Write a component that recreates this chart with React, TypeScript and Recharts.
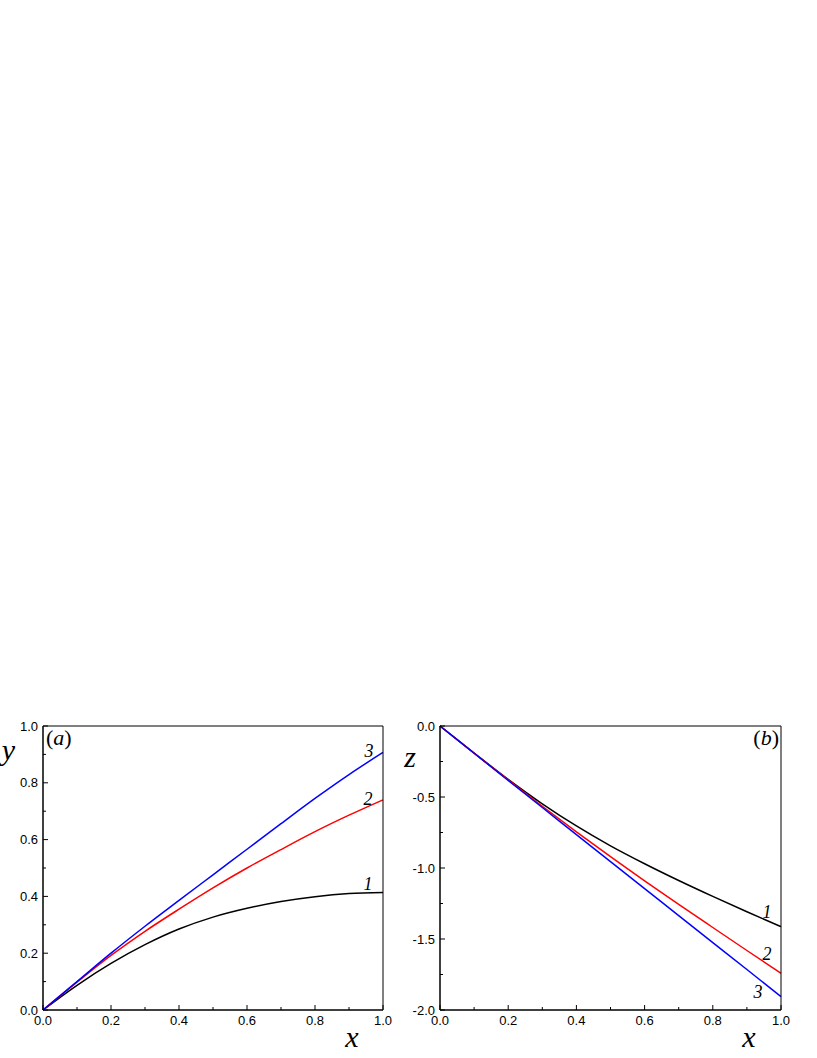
import React from 'react'
import { LineChart, Line, XAxis, YAxis } from 'recharts'

const xs = [0, 0.1, 0.2, 0.3, 0.4, 0.5, 0.6, 0.7, 0.8, 0.9, 1.0]

// panel (a): y(x)
const yCurve1 = [0, 0.087, 0.164, 0.23, 0.285, 0.327, 0.358, 0.382, 0.399, 0.41, 0.414]
const yCurve2 = [0, 0.098, 0.192, 0.277, 0.355, 0.43, 0.5, 0.565, 0.628, 0.686, 0.74]
const yCurve3 = [0, 0.1, 0.2, 0.295, 0.386, 0.476, 0.566, 0.656, 0.745, 0.829, 0.907]

// panel (b): z(x)
const zCurve1 = [0, -0.19, -0.376, -0.548, -0.704, -0.844, -0.97, -1.088, -1.2, -1.308, -1.413]
const zCurve2 = [0, -0.191, -0.38, -0.565, -0.745, -0.92, -1.09, -1.256, -1.419, -1.581, -1.742]
const zCurve3 = [0, -0.192, -0.384, -0.574, -0.765, -0.955, -1.145, -1.335, -1.525, -1.715, -1.906]

const xTicks = [0, 0.1, 0.2, 0.3, 0.4, 0.5, 0.6, 0.7, 0.8, 0.9, 1.0]
const yTicks = [0, 0.1, 0.2, 0.3, 0.4, 0.5, 0.6, 0.7, 0.8, 0.9, 1.0]
const zTicks = [-2, -1.75, -1.5, -1.25, -1, -0.75, -0.5, -0.25, 0]

const dataA = xs.map((x, i) => ({ x, c1: yCurve1[i], c2: yCurve2[i], c3: yCurve3[i] }))
const dataB = xs.map((x, i) => ({ x, c1: zCurve1[i], c2: zCurve2[i], c3: zCurve3[i] }))

const tickFont = 'Liberation Sans, Arial, sans-serif'
const serif = 'Liberation Serif, Times New Roman, serif'

const fmt = (v: number) => (Math.abs(v) < 1e-9 ? '0.0' : v.toFixed(1))

const XTick = (props: any) => {
  const { x, y, payload } = props
  const major = Math.round(payload.value * 10) % 2 === 0
  return (
    <g>
      <line x1={x} x2={x} y1={y} y2={y - (major ? 5 : 3)} stroke="#000" strokeWidth={1} />
      {major && (
        <text x={x} y={y + 15} textAnchor="middle" fontSize={13} fontFamily={tickFont} fill="#000">
          {fmt(payload.value)}
        </text>
      )}
    </g>
  )
}

const makeYTick = (step: number) => (props: any) => {
  const { x, y, payload } = props
  const major = Math.abs(Math.round(payload.value / step)) % 2 === 0
  return (
    <g>
      <line x1={x} x2={x + (major ? 5 : 3)} y1={y} y2={y} stroke="#000" strokeWidth={1} />
      {major && (
        <text x={x - 5} y={y + 4.5} textAnchor="end" fontSize={13} fontFamily={tickFont} fill="#000">
          {fmt(payload.value)}
        </text>
      )}
    </g>
  )
}

const endLabel = (text: string, count: number, dx: number, dy: number) => (props: any) => {
  const { x, y, index } = props
  if (index !== count - 1) return <g />
  return (
    <text x={x + dx} y={y + dy} textAnchor="middle" fontSize={18} fontStyle="italic" fontFamily={serif} fill="#000">
      {text}
    </text>
  )
}

const Panel = ({ data, ticks, domain, yStep, margin, labels }: any) => (
  <LineChart width={400} height={358} data={data} margin={margin}>
    <XAxis
      dataKey="x"
      type="number"
      domain={[0, 1]}
      ticks={xTicks}
      interval={0}
      height={1}
      tickSize={0}
      tickMargin={0}
      tickLine={false}
      tick={<XTick />}
      axisLine={{ stroke: '#000', strokeWidth: 1.5 }}
    />
    <XAxis xAxisId="top" orientation="top" type="number" domain={[0, 1]} height={1} tick={false} tickLine={false} axisLine={{ stroke: '#000', strokeWidth: 1 }} />
    <YAxis
      type="number"
      domain={domain}
      ticks={ticks}
      interval={0}
      width={1}
      tickSize={0}
      tickMargin={0}
      tickLine={false}
      tick={makeYTick(yStep)}
      axisLine={{ stroke: '#000', strokeWidth: 1.5 }}
    />
    <YAxis yAxisId="right" orientation="right" type="number" domain={domain} width={1} tick={false} tickLine={false} axisLine={{ stroke: '#000', strokeWidth: 1 }} />
    <Line dataKey="c1" type="monotone" stroke="#000000" strokeWidth={1.5} dot={false} isAnimationActive={false}
      label={endLabel('1', data.length, labels[0][0], labels[0][1])} />
    <Line dataKey="c2" type="monotone" stroke="#ff0000" strokeWidth={1.5} dot={false} isAnimationActive={false}
      label={endLabel('2', data.length, labels[1][0], labels[1][1])} />
    <Line dataKey="c3" type="monotone" stroke="#0000ff" strokeWidth={1.5} dot={false} isAnimationActive={false}
      label={endLabel('3', data.length, labels[2][0], labels[2][1])} />
  </LineChart>
)

export default function App() {
  return (
    <div style={{ position: 'absolute', left: 0, top: 0, width: 817, height: 1058, background: '#fff' }}>
      <div style={{ position: 'absolute', left: 0, top: 700 }}>
        <Panel
          data={dataA}
          ticks={yTicks}
          domain={[0, 1]}
          yStep={0.1}
          margin={{ top: 25, right: 16, bottom: 47, left: 42 }}
          labels={[[-15, -2], [-15, 5], [-14, 5]]}
        />
      </div>
      <div style={{ position: 'absolute', left: 400, top: 700 }}>
        <Panel
          data={dataB}
          ticks={zTicks}
          domain={[-2, 0]}
          yStep={0.25}
          margin={{ top: 25, right: 18, bottom: 47, left: 39 }}
          labels={[[-14, -9], [-14, -13], [-23, 1]]}
        />
      </div>
      <svg width={817} height={1058} style={{ position: 'absolute', left: 0, top: 0, pointerEvents: 'none' }}>
        <text x={15} y={760} textAnchor="end" fontSize={30} fontStyle="italic" fontFamily={serif}>y</text>
        <text x={352} y={1047} textAnchor="middle" fontSize={30} fontStyle="italic" fontFamily={serif}>x</text>
        <text x={46} y={745} fontSize={22} fontFamily={serif}>
          (<tspan fontStyle="italic">a</tspan>)
        </text>
        <text x={416} y={767} textAnchor="end" fontSize={30} fontStyle="italic" fontFamily={serif}>z</text>
        <text x={749} y={1047} textAnchor="middle" fontSize={30} fontStyle="italic" fontFamily={serif}>x</text>
        <text x={779} y={745} textAnchor="end" fontSize={22} fontFamily={serif}>
          (<tspan fontStyle="italic">b</tspan>)
        </text>
      </svg>
    </div>
  )
}
